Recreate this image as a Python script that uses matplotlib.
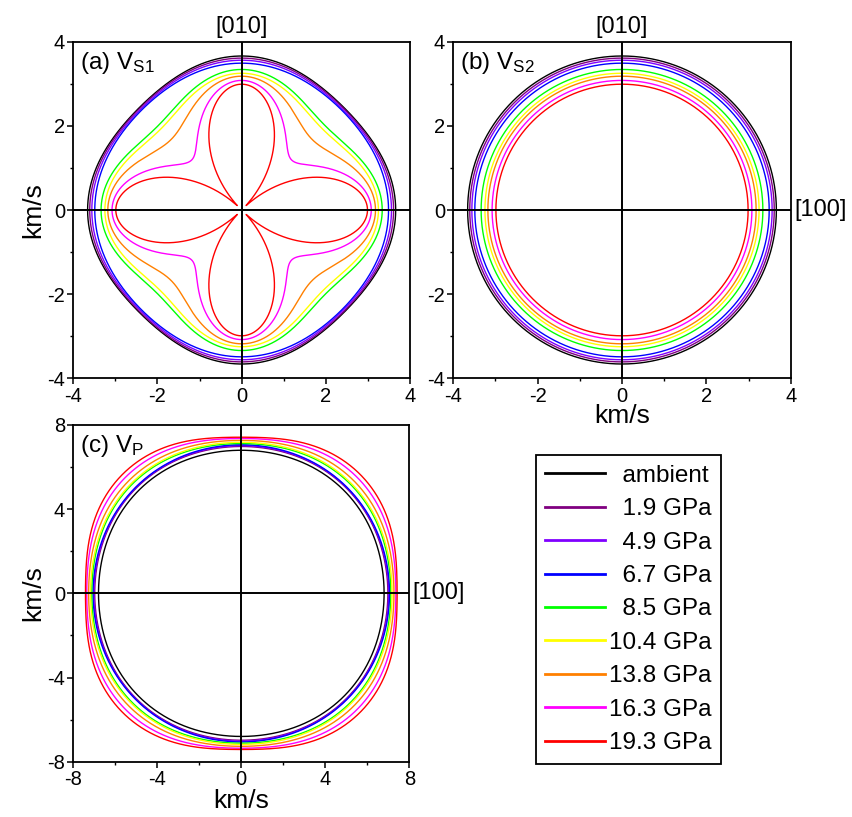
import numpy as np
import matplotlib
matplotlib.use('Agg')
import matplotlib.pyplot as plt

plt.rcParams['font.family'] = ['Liberation Sans', 'DejaVu Sans']
plt.rcParams['mathtext.default'] = 'regular'
plt.rcParams['axes.unicode_minus'] = False

# pressures and colours (Origin palette)
pressures = ['ambient', '1.9', '4.9', '6.7', '8.5', '10.4', '13.8', '16.3', '19.3']
colors = ['#000000', '#800080', '#8000FF', '#0000FF', '#00FF00',
          '#FFFF00', '#FF8000', '#FF00FF', '#FF0000']

# velocities (km/s)
vp_100 = [6.80, 6.98, 7.02, 7.06, 7.12, 7.18, 7.27, 7.36, 7.42]   # V_P along [100]
vs_100 = [3.66, 3.61, 3.56, 3.49, 3.34, 3.25, 3.18, 3.08, 2.99]   # V_S along [100] (= V_S2)
vs1_110 = [3.44, 3.42, 3.39, 3.36, 2.82, 2.72, 2.37, 1.68, 0.15]  # V_S1 along [110]

theta = np.linspace(0, 2 * np.pi, 1441)


def christoffel(vp, vs, vs1_45):
    # cubic crystal, waves in the (001) plane; moduli divided by density
    c11 = vp ** 2
    c44 = vs ** 2
    c12 = c11 - 2 * vs1_45 ** 2
    a = (c11 + c44) / 2
    d = np.sqrt(((c11 - c44) / 2 * np.cos(2 * theta)) ** 2 + ((c12 + c44) / 2 * np.sin(2 * theta)) ** 2)
    v_p = np.sqrt(a + d)
    v_s1 = np.sqrt(np.clip(a - d, 0, None))
    v_s2 = np.full_like(theta, vs)
    return v_p, v_s1, v_s2


fig = plt.figure(figsize=(8.52, 8.17), dpi=100)
W, H = 852., 817.
ax_a = fig.add_axes([73.3 / W, 1 - 378.3 / H, 336.7 / W, 336.6 / H])
ax_b = fig.add_axes([453.3 / W, 1 - 378.3 / H, 337.4 / W, 336.6 / H])
ax_c = fig.add_axes([73.3 / W, 1 - 761.7 / H, 336.0 / W, 336.7 / H])

handles = []
for i in range(len(pressures)):
    v_p, v_s1, v_s2 = christoffel(vp_100[i], vs_100[i], vs1_110[i])
    h = ax_a.plot(v_s1 * np.cos(theta), v_s1 * np.sin(theta), c=colors[i], lw=1.0)[0]
    ax_b.plot(v_s2 * np.cos(theta), v_s2 * np.sin(theta), c=colors[i], lw=1.0)
    ax_c.plot(v_p * np.cos(theta), v_p * np.sin(theta), c=colors[i], lw=1.0)
    handles.append(h)

for ax, lim, step in [(ax_a, 4, 2), (ax_b, 4, 2), (ax_c, 8, 4)]:
    ax.set_xlim(-lim, lim)
    ax.set_ylim(-lim, lim)
    ax.set_xticks(np.arange(-lim, lim + 1, step))
    ax.set_yticks(np.arange(-lim, lim + 1, step))
    ax.set_xticks(np.arange(-lim + step / 2, lim, step), minor=True)
    ax.set_yticks(np.arange(-lim + step / 2, lim, step), minor=True)
    ax.tick_params(which='major', direction='out', length=4, width=1.1, labelsize=14.5, pad=2)
    ax.tick_params(which='minor', direction='out', length=2.5, width=1.0)
    ax.axhline(0, c='k', lw=1.4, zorder=5)
    ax.axvline(0, c='k', lw=1.4, zorder=5)
    for sp in ax.spines.values():
        sp.set_linewidth(1.3)

ax_a.set_ylabel('km/s', fontsize=19, labelpad=1)
ax_c.set_ylabel('km/s', fontsize=19, labelpad=1)
ax_b.set_xlabel('km/s', fontsize=19, labelpad=-1)
ax_c.set_xlabel('km/s', fontsize=19, labelpad=0)

ax_a.text(0.02, 0.975, '(a) V$_{S1}$', transform=ax_a.transAxes, fontsize=17.5, va='top', ha='left')
ax_b.text(0.02, 0.975, '(b) V$_{S2}$', transform=ax_b.transAxes, fontsize=17.5, va='top', ha='left')
ax_c.text(0.02, 0.975, '(c) V$_{P}$', transform=ax_c.transAxes, fontsize=17.5, va='top', ha='left')

ax_a.text(0.5, 1.01, '[010]', transform=ax_a.transAxes, fontsize=17, ha='center', va='bottom')
ax_b.text(0.5, 1.01, '[010]', transform=ax_b.transAxes, fontsize=17, ha='center', va='bottom')
ax_b.text(1.01, 0.5, '[100]', transform=ax_b.transAxes, fontsize=17, ha='left', va='center')
ax_c.text(1.01, 0.5, '[100]', transform=ax_c.transAxes, fontsize=17, ha='left', va='center')

# pad the shorter labels with a figure space so they line up on the right
leg_labels = []
for p in pressures:
    if p == 'ambient':
        leg_labels.append('\u2007' + p)
    elif len(p) < 4:
        leg_labels.append('\u2007' + p + ' GPa')
    else:
        leg_labels.append(p + ' GPa')
leg = fig.legend(handles, leg_labels, loc='upper left', bbox_to_anchor=(535.7 / W, 1 - 455 / H),
                 borderaxespad=0, fontsize=17.5, handlelength=2.45, handletextpad=0.15,
                 labelspacing=0.47, borderpad=0.4, fancybox=False, framealpha=1, edgecolor='k')
leg.get_frame().set_linewidth(1.3)
for line in leg.get_lines():
    line.set_linewidth(2.0)

plt.savefig('out.png', dpi=100)
